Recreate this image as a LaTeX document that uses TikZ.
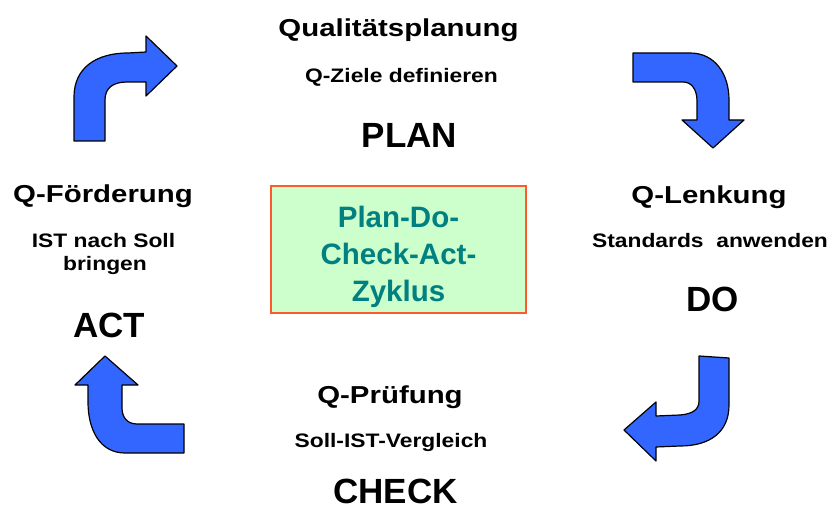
\documentclass[tikz,border=0pt]{standalone}
\usepackage{fontspec}
\setmainfont{Liberation Sans}
\newfontfamily\widetitle[FakeStretch=1.2]{Liberation Sans}
\newfontfamily\widesub[FakeStretch=1.17]{Liberation Sans}
\definecolor{arrowblue}{HTML}{3366FF}
\definecolor{boxfill}{HTML}{CCFFCC}
\definecolor{boxline}{HTML}{FF5A2E}
\definecolor{boxtext}{HTML}{008080}
\begin{document}
\begin{tikzpicture}[x=1bp,y=-1bp,
  titletext/.style={anchor=base, inner sep=0pt, font=\widetitle\fontsize{24.5bp}{29bp}\bfseries\selectfont},
  subtext/.style={anchor=base, inner sep=0pt, font=\widesub\fontsize{19.5bp}{23bp}\bfseries\selectfont},
  bigtext/.style={anchor=base, inner sep=0pt, font=\fontsize{35bp}{40bp}\bfseries\selectfont},
  cyclebox/.style={draw=boxline, line width=1.5bp, fill=boxfill, minimum width=255bp, minimum height=127bp, inner sep=0pt},
  cycletext/.style={text=boxtext, align=center, inner sep=0pt, font=\fontsize{29.5bp}{37bp}\bfseries\selectfont},
  bluearrow/.style={fill=arrowblue, draw=black, line width=1.2bp, line join=round}
]
\useasboundingbox (0,0) rectangle (829,512);

% centre box
\node[cyclebox] (cycle) at (398.5,249.5) {};
\node[cycletext] (cyclelabel) at (398.5,257) {Plan-Do-\\Check-Act-\\Zyklus};

% PLAN
\node[titletext] (plantitle) at (398.5,37) {Qualitätsplanung};
\node[subtext] (plansub) at (401.5,83) {Q-Ziele definieren};
\node[bigtext] (plan) at (409.5,148) {PLAN};

% DO
\node[titletext] (dotitle) at (709,204) {Q-Lenkung};
\node[subtext] (dosub) at (710,248) {Standards\ \ anwenden};
\node[bigtext] (do) at (712.5,312) {DO};

% CHECK
\node[titletext] (checktitle) at (390,403) {Q-Prüfung};
\node[subtext] (checksub) at (391,447) {Soll-IST-Vergleich};
\node[bigtext] (check) at (395.5,503) {CHECK};

% ACT
\node[titletext] (acttitle) at (103,203) {Q-Förderung};
\node[subtext] (actsub) at (103.5,248) {IST nach Soll};
\node[subtext] (actsubb) at (105,271) {bringen};
\node[bigtext] (act) at (109,337) {ACT};

% arrow top-left (ACT -> PLAN)
\draw[bluearrow] (74,141) -- (74,97)
  .. controls (74,68) and (96,53) .. (128,53)
  -- (146,52) -- (146,36) -- (177,66) -- (146,96) -- (146,82) -- (127,82)
  .. controls (113,82) and (105,88) .. (105,100)
  -- (105,141) -- cycle;

% arrow top-right (PLAN -> DO)
\draw[bluearrow] (633,53) -- (690,53)
  .. controls (715,53) and (729,74) .. (729,100)
  -- (729,120) -- (744,120) -- (713,148) -- (682,120) -- (697,120) -- (697,101)
  .. controls (697,90) and (692,82) .. (683,82)
  -- (633,82) -- cycle;

% arrow bottom-right (DO -> CHECK)
\draw[bluearrow] (699,356) -- (729,358) -- (729,405)
  .. controls (729,432) and (710,446) .. (680,446)
  -- (656,447) -- (656,461) -- (624,430) -- (656,402) -- (656,416) -- (680,415)
  .. controls (692,414) and (699,410) .. (699,401)
  -- cycle;

% arrow bottom-left (CHECK -> ACT)
\draw[bluearrow] (105,356) -- (138,385) -- (122,385) -- (122,408)
  .. controls (122,418) and (128,424) .. (137,424)
  -- (184,424) -- (184,453) -- (125,453)
  .. controls (100,453) and (88,430) .. (88,402)
  -- (88,385) -- (75,385) -- cycle;
\end{tikzpicture}
\end{document}
